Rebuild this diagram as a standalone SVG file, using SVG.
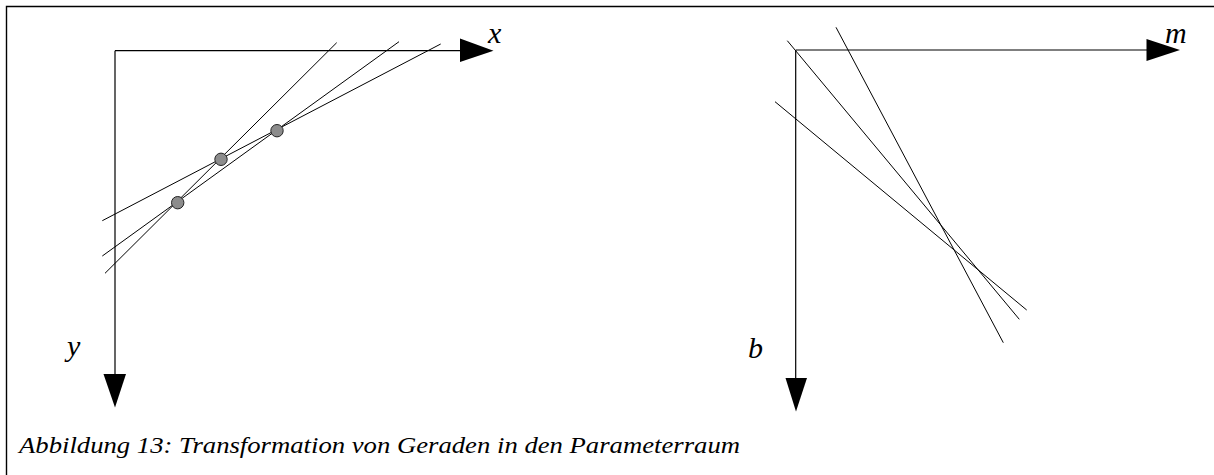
<svg xmlns="http://www.w3.org/2000/svg" width="1214" height="475" viewBox="0 0 1214 475">
<style>
.frame{fill:none;stroke:#000;stroke-width:1.4}
.axis{stroke:#000;stroke-width:1.2;fill:none}
.ln{stroke:#000;stroke-width:1;fill:none}
.head{fill:#000;stroke:none}
.pt{fill:#8c8c8c;stroke:#222;stroke-width:1}
.lbl{font-family:"Liberation Serif",serif;font-style:italic;font-size:30px;fill:#000}
.cap{font-family:"Liberation Serif",serif;font-style:italic;font-size:23px;fill:#000}
</style>
<rect width="1214" height="475" fill="#fff"/>
<path class="frame" d="M6.5,475 V6.5 H1214"/>
<g id="left-axes">
<path class="axis" d="M115,50.7 H462 M115,50.7 V376"/>
<polygon class="head" points="460,38.5 493.5,50.7 460,62"/>
<polygon class="head" points="103.5,374 126,374 115,407.5"/>
<text class="lbl" x="488" y="43">x</text>
<text class="lbl" x="67" y="356">y</text>
</g>
<g id="connectors">
<line class="ln" x1="336.7" y1="42.7" x2="105" y2="273.3"/>
<line class="ln" x1="399" y1="41.7" x2="102.3" y2="256"/>
<line class="ln" x1="440.7" y1="44" x2="102.3" y2="220.7"/>
<line class="ln" x1="787.3" y1="40.7" x2="1019.3" y2="319.3"/>
<line class="ln" x1="836" y1="27.3" x2="1003.3" y2="342.7"/>
<line class="ln" x1="775" y1="101.7" x2="1026.7" y2="310"/>
</g>
<g id="p1"><circle class="pt" cx="221" cy="159.3" r="6.2"/></g>
<g id="p2"><circle class="pt" cx="177.7" cy="202.7" r="6.2"/></g>
<g id="p3"><circle class="pt" cx="277" cy="130.7" r="6.2"/></g>
<g id="right-axes">
<path class="axis" d="M795.7,50 H1148 M795.7,50 V380"/>
<polygon class="head" points="1146.5,39 1180,50 1146.5,61"/>
<polygon class="head" points="785.5,378 807,378 796,411.5"/>
<text class="lbl" x="1165" y="43">m</text>
<text class="lbl" x="748" y="358">b</text>
</g>
<text class="cap" x="19" y="453" textLength="721" lengthAdjust="spacingAndGlyphs">Abbildung 13: Transformation von Geraden in den Parameterraum</text>
</svg>
